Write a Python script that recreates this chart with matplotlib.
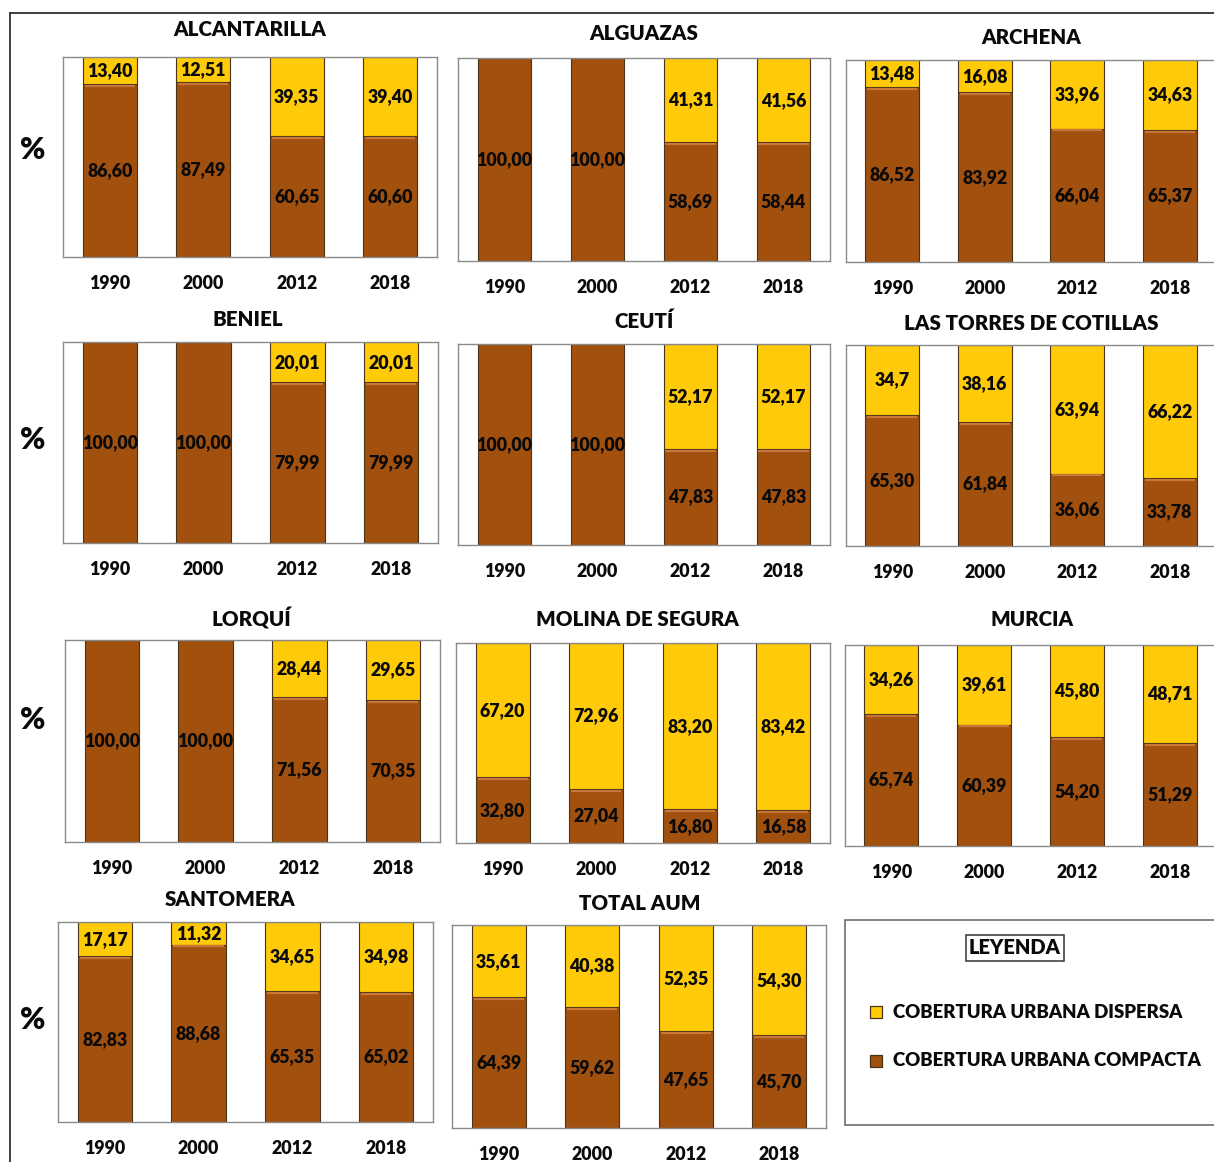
import matplotlib
matplotlib.use("Agg")
import matplotlib.pyplot as plt
from matplotlib.patches import Rectangle
from matplotlib.lines import Line2D

plt.rcParams["font.family"] = ["Lato", "DejaVu Sans"]
plt.rcParams["font.weight"] = "bold"

# ---- data (values as printed, Spanish decimal comma) ----
years = ["1990", "2000", "2012", "2018"]

municipios = [
    "ALCANTARILLA", "ALGUAZAS", "ARCHENA",
    "BENIEL", "CEUTÍ", "LAS TORRES DE COTILLAS",
    "LORQUÍ", "MOLINA DE SEGURA", "MURCIA",
    "SANTOMERA", "TOTAL AUM",
]

compacta = [
    ["86,60", "87,49", "60,65", "60,60"],
    ["100,00", "100,00", "58,69", "58,44"],
    ["86,52", "83,92", "66,04", "65,37"],
    ["100,00", "100,00", "79,99", "79,99"],
    ["100,00", "100,00", "47,83", "47,83"],
    ["65,30", "61,84", "36,06", "33,78"],
    ["100,00", "100,00", "71,56", "70,35"],
    ["32,80", "27,04", "16,80", "16,58"],
    ["65,74", "60,39", "54,20", "51,29"],
    ["82,83", "88,68", "65,35", "65,02"],
    ["64,39", "59,62", "47,65", "45,70"],
]

dispersa = [
    ["13,40", "12,51", "39,35", "39,40"],
    ["", "", "41,31", "41,56"],
    ["13,48", "16,08", "33,96", "34,63"],
    ["", "", "20,01", "20,01"],
    ["", "", "52,17", "52,17"],
    ["34,7", "38,16", "63,94", "66,22"],
    ["", "", "28,44", "29,65"],
    ["67,20", "72,96", "83,20", "83,42"],
    ["34,26", "39,61", "45,80", "48,71"],
    ["17,17", "11,32", "34,65", "34,98"],
    ["35,61", "40,38", "52,35", "54,30"],
]

legend_labels = ["COBERTURA URBANA DISPERSA", "COBERTURA URBANA COMPACTA"]

# ---- layout (pixels) ----
W, H = 1214, 1162
# plot area: left, top, right, bottom ; title centre x, y
panels = [
    ((63, 57, 437, 257), (250, 30)),
    ((458, 58, 830, 261), (644, 33)),
    ((846, 60, 1216, 262), (1031, 38)),
    ((63, 342, 438, 543), (248, 320)),
    ((458, 344, 830, 545), (644, 321)),
    ((846, 345, 1216, 546), (1031, 324)),
    ((65, 640, 440, 842), (251, 619)),
    ((456, 643, 830, 843), (637, 620)),
    ((845, 645, 1216, 846), (1032, 620)),
    ((58, 922, 433, 1122), (230, 899)),
    ((452, 925, 826, 1128), (640, 904)),
]
pct_y = [150, 440, 720, 1020]

COL_COMP = "#A2500E"
COL_DISP = "#FFCA08"
EDGE = "#4a3418"
TXT = "#0a0a0a"
FS_VAL = 12.8
FS_YEAR = 12.8
FS_TITLE = 14.8


def num(s):
    return float(s.replace(",", ".")) if s else 0.0


fig = plt.figure(figsize=(W / 100, H / 100), dpi=100)

# outer frame
fig.add_artist(Line2D([10 / W, 10 / W], [0, 1 - 13 / H], color="#303030", lw=1.3))
fig.add_artist(Line2D([10 / W, 1], [1 - 13 / H, 1 - 13 / H], color="#303030", lw=1.3))

for name, comp, disp, (rect, (tx, ty)) in zip(municipios, compacta, dispersa, panels):
    x0, y0, x1, y1 = rect
    ax = fig.add_axes([x0 / W, 1 - y1 / H, (x1 - x0) / W, (y1 - y0) / H])
    xs = list(range(len(years)))
    cv = [num(v) for v in comp]
    dv = [num(v) for v in disp]
    ax.bar(xs, cv, width=0.58, color=COL_COMP, edgecolor=EDGE, linewidth=0.8, zorder=2)
    ax.bar(xs, dv, width=0.58, bottom=cv, color=COL_DISP, edgecolor=EDGE,
           linewidth=0.8, zorder=2)
    # lighter bevel line on top of each compact segment
    for x, c, d in zip(xs, cv, dv):
        if d > 0:
            ax.plot([x - 0.27, x + 0.27], [c - 0.9, c - 0.9], color="#C9763A",
                    lw=1.6, solid_capstyle="butt", zorder=3)
    for x, c, d, cs, ds in zip(xs, cv, dv, comp, disp):
        ax.text(x, c / 2, cs, ha="center", va="center", fontsize=FS_VAL,
                fontweight="heavy", color=TXT, zorder=4)
        if ds:
            ax.text(x, c + d / 2, ds, ha="center", va="center", fontsize=FS_VAL,
                    fontweight="heavy", color=TXT, zorder=4)
    ax.set_xlim(-0.5, 3.5)
    ax.set_ylim(0, 100)
    ax.set_yticks([])
    ax.set_xticks(xs)
    ax.set_xticklabels(years, fontsize=FS_YEAR, fontweight="heavy", color=TXT)
    ax.tick_params(axis="x", length=0, pad=13)
    for sp in ax.spines.values():
        sp.set_color("#8a8a8a")
        sp.set_linewidth(1.0)
    fig.text(tx / W, 1 - ty / H, name, ha="center", va="center", fontsize=FS_TITLE,
             fontweight="heavy", color=TXT)

for y in pct_y:
    fig.text(33 / W, 1 - y / H, "%", ha="center", va="center", fontsize=22,
             fontweight="heavy", color=TXT)

# legend box
fig.add_artist(Rectangle((845 / W, 1 - 1125 / H), (1230 - 845) / W, (1125 - 920) / H,
                         transform=fig.transFigure, facecolor="white",
                         edgecolor="#6e6e6e", lw=1.2))
fig.text(1015 / W, 1 - 948 / H, "LEYENDA", ha="center", va="center", fontsize=14.5,
         fontweight="heavy", color=TXT,
         bbox=dict(boxstyle="square,pad=0.15", facecolor="white", edgecolor="#333333",
                   lw=1.1))
for (yy, col, lab) in [(1012, COL_DISP, legend_labels[0]), (1061, COL_COMP, legend_labels[1])]:
    fig.add_artist(Rectangle((870 / W, 1 - (yy + 6) / H), 12 / W, 12 / H,
                             transform=fig.transFigure, facecolor=col,
                             edgecolor=EDGE, lw=0.9))
    fig.text(893 / W, 1 - yy / H, lab, ha="left", va="center", fontsize=13.4,
             fontweight="heavy", color=TXT)

fig.savefig("out.png", dpi=100, facecolor="white")
